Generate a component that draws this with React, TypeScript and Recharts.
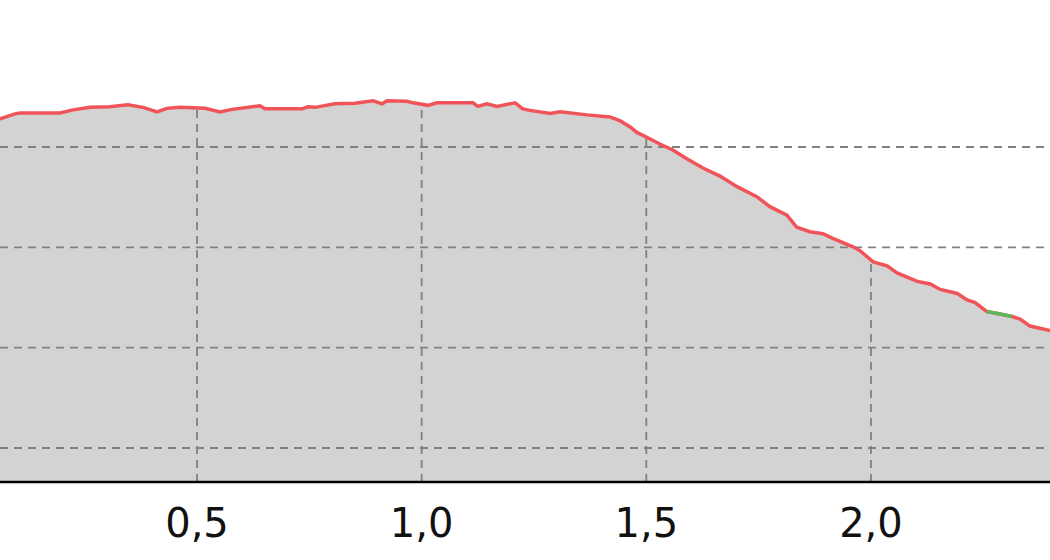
import React from "react";
import {
	ComposedChart,
	Area,
	Line,
	XAxis,
	YAxis,
	ReferenceLine,
} from "recharts";

// distance along the route (km) and elevation (m)
const distanceKm = [
	0.04, 0.0615, 0.095, 0.106, 0.195, 0.224, 0.262, 0.306, 0.346, 0.38,
	0.411, 0.433, 0.462, 0.518, 0.551, 0.578, 0.64, 0.651, 0.734, 0.747,
	0.763, 0.807, 0.852, 0.892, 0.912, 0.923, 0.967, 0.981, 1.014, 1.034,
	1.114, 1.125, 1.145, 1.168, 1.208, 1.225, 1.241, 1.286, 1.308, 1.368,
	1.419, 1.442, 1.464, 1.479, 1.502, 1.53, 1.559, 1.591, 1.626, 1.664,
	1.702, 1.746, 1.775, 1.813, 1.835, 1.864, 1.893, 1.915, 1.96, 1.976,
	2.005, 2.036, 2.058, 2.103, 2.132, 2.154, 2.192, 2.214, 2.232, 2.258,
	2.287, 2.314, 2.332, 2.354, 2.399, 2.41,
];

const elevationM = [
	265.0, 265.6, 266.6, 266.8, 266.8, 267.4, 267.9, 268.0, 268.4, 267.9,
	267.0, 267.7, 267.9, 267.7, 267.0, 267.5, 268.2, 267.6, 267.6, 268.0,
	267.9, 268.6, 268.7, 269.2, 268.6, 269.2, 269.1, 268.8, 268.3, 268.8,
	268.8, 268.1, 268.6, 268.1, 268.8, 267.6, 267.3, 266.7, 267.0, 266.4,
	266.0, 265.2, 264.0, 262.9, 261.9, 260.6, 259.4, 257.6, 255.8, 254.2,
	252.1, 250.1, 248.1, 246.4, 244.0, 243.1, 242.7, 241.8, 240.1, 239.3,
	237.1, 236.3, 234.9, 233.2, 232.7, 231.6, 230.8, 229.5, 229.0, 227.2,
	226.7, 226.2, 225.7, 224.3, 223.4, 223.0,
];

// short stretch drawn in green
const greenFromKm = 2.258;
const greenToKm = 2.314;

const xTicks = [0.5, 1.0, 1.5, 2.0];
const yTicks = [200, 220, 240, 260];

const xDomain = [0.0615, 2.3985];
const yDomain = [193.22, 289.3];

const data = distanceKm.map((km, i) => ({
	km,
	elev: elevationM[i],
	green: km >= greenFromKm && km <= greenToKm ? elevationM[i] : null,
}));

function elevationAt(km: number) {
	for (let i = 1; i < distanceKm.length; i++) {
		if (distanceKm[i] >= km) {
			const t = (km - distanceKm[i - 1]) / (distanceKm[i] - distanceKm[i - 1]);
			return elevationM[i - 1] + t * (elevationM[i] - elevationM[i - 1]);
		}
	}
	return elevationM[elevationM.length - 1];
}

const gridStyle = {
	stroke: "#808080",
	strokeWidth: 1.8,
	strokeDasharray: "8 6",
};

export default function App() {
	return (
		<div style={{ position: "absolute", left: 0, top: 0, background: "#fff" }}>
			<ComposedChart
				width={1050}
				height={560}
				data={data}
				margin={{ top: 0, right: 0, left: 0, bottom: 0 }}
			>
				<XAxis
					dataKey="km"
					type="number"
					domain={xDomain}
					allowDataOverflow
					ticks={xTicks}
					tickFormatter={(v: number) => v.toFixed(1).replace(".", ",")}
					tick={{ fontSize: 40, fill: "#111", fontFamily: "DejaVu Sans" }}
					tickLine={false}
					tickMargin={21}
					axisLine={{ stroke: "#000", strokeWidth: 2.5 }}
					height={78}
				/>
				<YAxis type="number" domain={yDomain} allowDataOverflow hide />

				<Area
					type="linear"
					dataKey="elev"
					stroke="none"
					fill="#d3d3d3"
					fillOpacity={1}
					baseValue={yDomain[0]}
					activeDot={false}
					isAnimationActive={false}
				/>

				{yTicks.map(v => (
					<ReferenceLine key={`h${v}`} y={v} {...gridStyle} />
				))}
				{xTicks.map(t => (
					<ReferenceLine
						key={`v${t}`}
						segment={[
							{ x: t, y: yDomain[0] },
							{ x: t, y: elevationAt(t) },
						]}
						{...gridStyle}
					/>
				))}

				<Line
					type="linear"
					dataKey="elev"
					stroke="#f05458"
					strokeWidth={3.5}
					dot={false}
					activeDot={false}
					isAnimationActive={false}
				/>
				<Line
					type="linear"
					dataKey="green"
					stroke="#5cb85c"
					strokeWidth={3.5}
					dot={false}
					activeDot={false}
					connectNulls={false}
					isAnimationActive={false}
				/>
			</ComposedChart>
		</div>
	);
}
